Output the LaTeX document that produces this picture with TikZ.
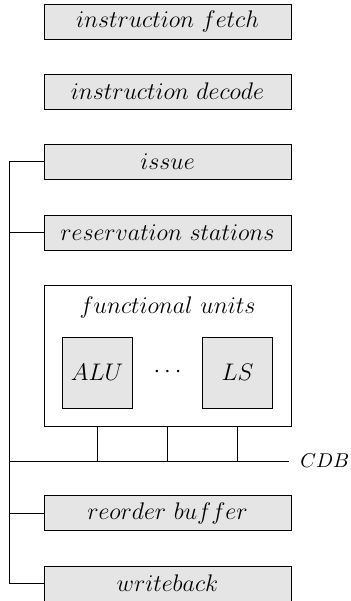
\documentclass[tikz,border=0pt]{standalone}
\begin{document}
\begin{tikzpicture}[x=0.5pt,y=-0.5pt,
  big/.style={font=\fontsize{11.7pt}{14pt}\selectfont},
  stage/.style={big, draw, fill=gray!20, minimum width=123.5pt, minimum height=17.5pt, inner sep=0pt},
  unitbox/.style={draw, fill=gray!20, minimum width=35pt, minimum height=35.5pt, inner sep=0pt, font=\fontsize{12pt}{14pt}\selectfont},
  frame/.style={draw, fill=white, minimum width=123.5pt, minimum height=70.5pt, inner sep=0pt},
  wire/.style={line width=0.4pt}]
\useasboundingbox (0,0) rectangle (351,601);

% pipeline stages
\node[stage] (fetch)  at (167.5,21.5)  {$instruction\ fetch$};
\node[stage] (decode) at (167.5,91.5)  {$instruction\ decode$};
\node[stage] (issue)  at (167.5,161.5) {$issue$};
\node[stage] (rs)     at (167.5,232.5) {$reservation\ stations$};

% functional units
\node[frame] (fu) at (167.5,355.5) {};
\node[big] (futitle) at (167.5,307) {$functional\ units$};
\node[unitbox] (alu) at (97,372.5) {$ALU$};
\node[big] (dots) at (167.5,372.5) {$\cdots$};
\node[unitbox] (ls) at (237.5,372.5) {$LS$};

\node[stage] (rob) at (167.5,513)   {$reorder\ buffer$};
\node[stage] (wb)  at (167.5,583.5) {$writeback$};

% common data bus
\coordinate (busT) at (9,161.5);
\coordinate (busB) at (9,583.5);
\coordinate (cdbL) at (9,461);
\coordinate (cdbR) at (289,461);

\draw[wire] (issue.west) -- (busT) -- (busB) -- (wb.west);
\draw[wire] (rs.west) -- (rs.west -| busT);
\draw[wire] (rob.west) -- (rob.west -| busT);
\draw[wire] (cdbL) -- (cdbR) node[right, inner sep=5.5pt] (cdb) {$CDB$};
\draw[wire] (alu |- fu.south) -- (alu |- cdbL);
\draw[wire] (dots |- fu.south) -- (dots |- cdbL);
\draw[wire] (ls |- fu.south) -- (ls |- cdbL);
\end{tikzpicture}
\end{document}
